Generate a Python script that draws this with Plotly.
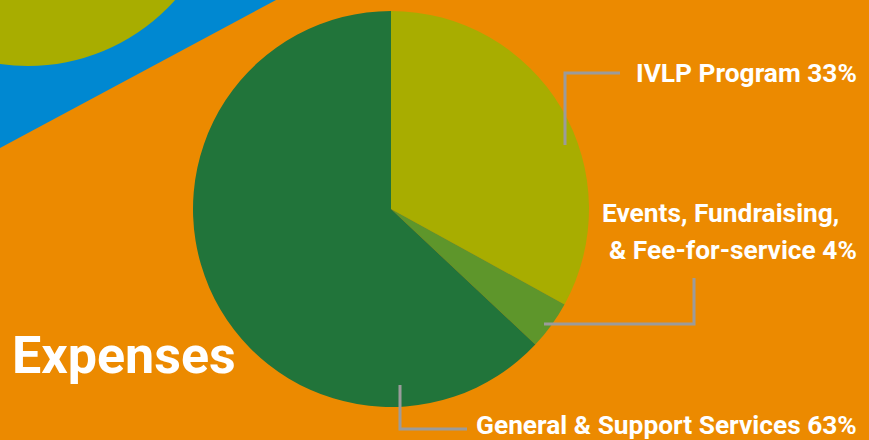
import plotly.graph_objects as go

W, H = 869, 440

labels = ["IVLP Program", "Events, Fundraising, & Fee-for-service", "General & Support Services"]
values = [33, 4, 63]
colors = ["#A8AD00", "#5E962B", "#21743A"]

label_lines = [
    ["IVLP Program 33%"],
    ["Events, Fundraising,", "& Fee-for-service 4%"],
    ["General & Support Services 63%"],
]
title_text = "Expenses"

BG = "#EC8A00"
BLUE = "#0088D1"
GRAY = "#9B9B9B"
FONT = "Roboto, sans-serif"


def px(x):
    return x / W


def py(y):
    return 1 - y / H


fig = go.Figure()
fig.add_trace(go.Pie(
    labels=labels, values=values,
    marker=dict(colors=colors, line=dict(width=0)),
    sort=False, direction="clockwise", rotation=0,
    textinfo="none", hoverinfo="label+percent", showlegend=False,
    domain=dict(x=[px(391 - 198), px(391 + 198)], y=[py(407), py(11)]),
))

shapes = []
# blue triangle
shapes.append(dict(type="path", xref="paper", yref="paper", layer="below",
                   path=f"M 0 1 L {px(276)} 1 L 0 {py(148)} Z",
                   fillcolor=BLUE, line=dict(width=0)))
# olive circle
cx, cy, r = 28, -131, 197
shapes.append(dict(type="circle", xref="paper", yref="paper", layer="below",
                   x0=px(cx - r), x1=px(cx + r), y0=py(cy + r), y1=py(cy - r),
                   fillcolor=colors[0], line=dict(width=0)))


def leader(points):
    d = "M " + " L ".join(f"{px(x)} {py(y)}" for x, y in points)
    shapes.append(dict(type="path", xref="paper", yref="paper", path=d,
                       line=dict(color=GRAY, width=3)))


leader([(565, 145), (565, 73), (620, 73)])
leader([(694, 278), (694, 324), (544, 324)])
leader([(400, 385), (400, 429), (467, 429)])

fig.update_layout(shapes=shapes)

ann = []
def label(x, y, text, size=26.3):
    ann.append(dict(x=px(x), y=py(y), xref="paper", yref="paper", text=text,
                    showarrow=False, xanchor="left", yanchor="middle",
                    font=dict(family=FONT, size=size, color="white", weight="bold")))

label(634, 73, label_lines[0][0])
label(600, 213, label_lines[1][0])
label(607, 250, label_lines[1][1])
label(474, 425, label_lines[2][0])
label(10, 355, title_text, size=52)

fig.update_layout(
    annotations=ann,
    width=W, height=H,
    margin=dict(l=0, r=0, t=0, b=0),
    paper_bgcolor=BG, plot_bgcolor=BG,
    xaxis=dict(visible=False), yaxis=dict(visible=False),
)

fig.write_html("out.html", config={"displayModeBar": False},
               post_script="document.body.style.margin='0';document.body.style.overflow='hidden';")
